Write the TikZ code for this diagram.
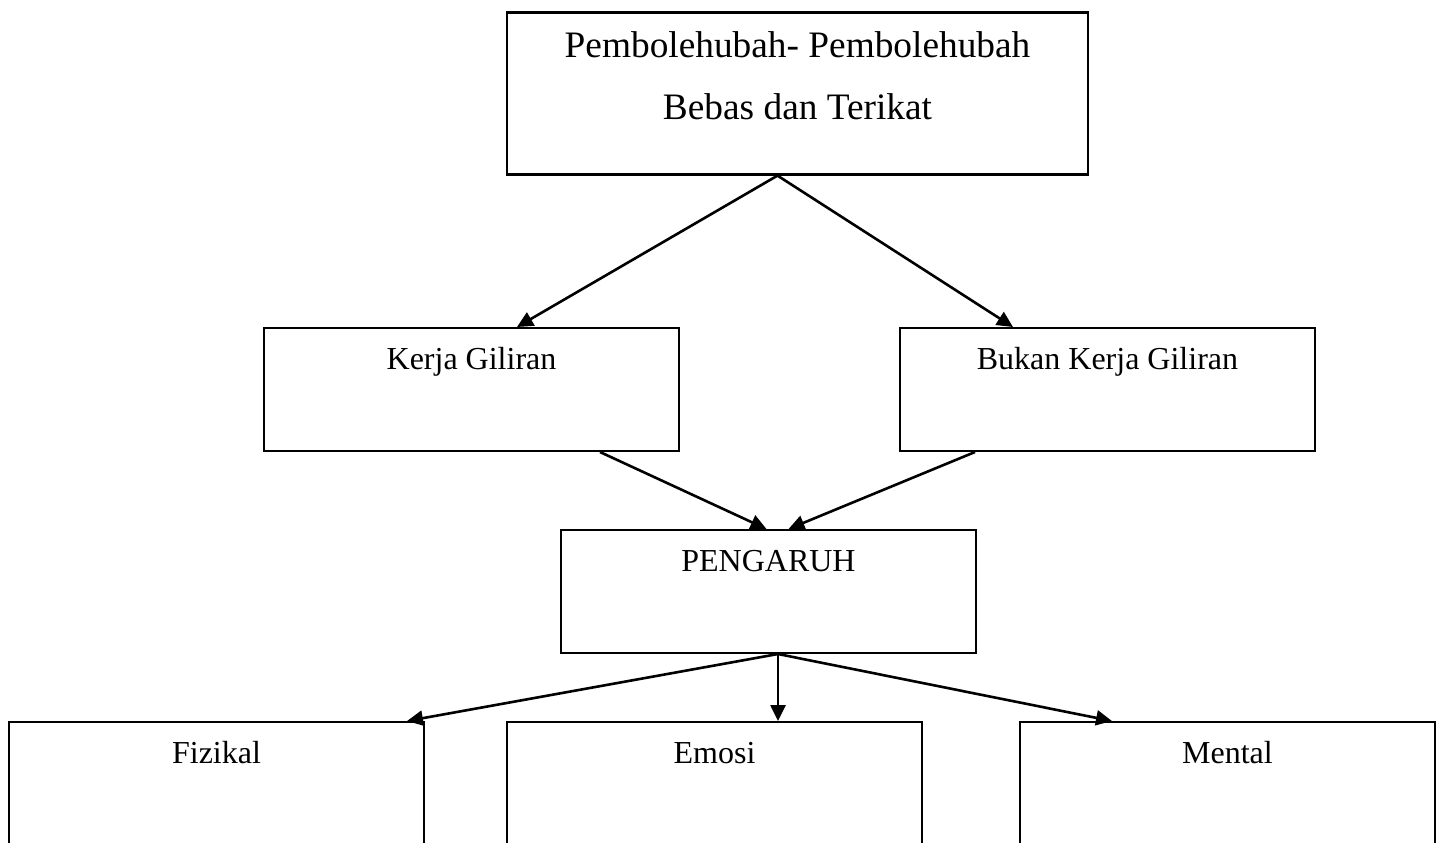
\documentclass[tikz,border=0pt]{standalone}
\usepackage{fontspec}
\setmainfont{Liberation Serif}
\usetikzlibrary{positioning, arrows.meta}

\begin{document}
\begin{tikzpicture}[x=0.5pt, y=-0.5pt,
    box/.style={draw, line width=1pt, inner sep=0pt, text width=207.5pt, align=flush center, text height=20.5pt, text depth=41pt, font=\fontsize{16}{19}\selectfont},
    topbox/.style={draw, line width=1.3pt, inner sep=0pt, text width=290.5pt, align=flush center, text height=22.5pt, text depth=58.5pt, font=\fontsize{18.67}{31}\selectfont},
    msg/.style={-{Triangle[length=8pt, width=7.5pt]}, line width=1.3pt}]
    \useasboundingbox (0,0) rectangle (1439,842);
    \clip (0,0) rectangle (1439,842);

    \node[topbox, anchor=north] (Vars) at (797.5,11) {Pembolehubah- Pembolehubah\\Bebas dan Terikat};
    \node[box, anchor=north] (Shift) at (471.5,327) {Kerja Giliran};
    \node[box, right=109.5pt of Shift] (NoShift) {Bukan Kerja Giliran};
    \node[box, anchor=north] (Effect) at (768.5,529) {PENGARUH};

    \node[box, anchor=north] (Phys) at (216.5,721) {Fizikal};
    \node[box, right=40.5pt of Phys] (Emo) {Emosi};
    \node[box, right=48pt of Emo] (Ment) {Mental};

    \path ([xshift=-10pt]Vars.south) edge[msg] ([xshift=22.75pt]Shift.north);
    \path ([xshift=-10pt]Vars.south) edge[msg] ([xshift=-47.25pt]NoShift.north);

    \path ([xshift=64.25pt]Shift.south) edge[msg] ([xshift=-1pt]Effect.north);
    \path ([xshift=-66.25pt]NoShift.south) edge[msg] ([xshift=10pt]Effect.north);

    \path ([xshift=4.75pt]Effect.south) edge[msg] ([xshift=-9pt]Phys.north east);
    \path ([xshift=4.75pt]Effect.south) edge[msg] ([xshift=31.75pt]Emo.north);
    \path ([xshift=4.75pt]Effect.south) edge[msg] ([xshift=46.5pt]Ment.north west);
\end{tikzpicture}
\end{document}
